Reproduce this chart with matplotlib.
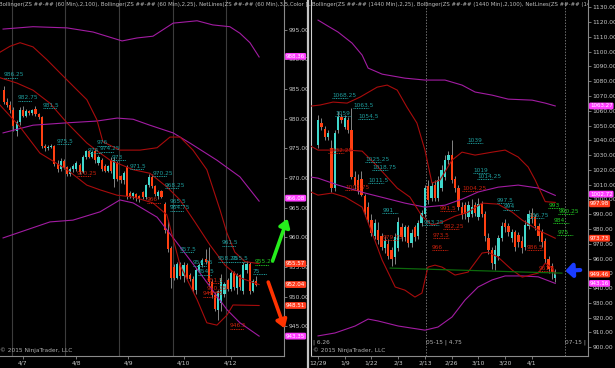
import matplotlib
matplotlib.use("Agg")
from matplotlib import pyplot as plt
from matplotlib.transforms import offset_copy
import numpy as np

# ---- left panel: ZS 60 min ----
L_open = [984.8, 982.8, 982.3, 981.5, 978.0, 979.4, 981.5, 980.5, 981.3, 980.9,
          981.6, 980.8, 980.3, 975.4, 975.0, 975.3, 975.4, 972.3, 971.6, 972.8,
          971.9, 970.7, 971.5, 971.6, 972.2, 971.0, 973.6, 974.5, 973.6, 974.6,
          972.6, 973.0, 972.0, 971.2, 973.0, 969.8, 972.6, 970.3, 969.7, 971.8,
          967.5, 966.9, 967.3, 967.0, 967.6, 966.8, 968.8, 970.2, 968.6, 967.0,
          967.8, 965.6, 961.2, 958.2, 955.0, 953.2, 955.5, 953.4, 955.3, 953.6,
          953.0, 951.2, 954.5, 955.3, 956.3, 956.0, 952.5, 950.2, 947.8, 949.0,
          950.5, 952.8, 951.3, 954.0, 951.4, 953.6, 951.0, 954.5, 955.5, 951.0, 952.6]
L_high = [985.5, 983.5, 983.0, 982.0, 979.8, 982.0, 982.2, 981.6, 981.5, 981.7,
          982.2, 981.0, 980.5, 975.8, 975.6, 975.7, 975.6, 973.0, 973.4, 973.2,
          972.0, 971.8, 972.3, 972.8, 972.5, 973.8, 974.8, 974.8, 974.6, 975.0,
          973.8, 973.4, 972.4, 972.2, 973.5, 973.5, 972.8, 970.5, 971.2, 972.2,
          967.8, 967.6, 967.5, 967.2, 967.8, 969.0, 970.6, 970.6, 968.8, 968.0,
          968.0, 966.0, 963.0, 958.6, 955.5, 955.8, 955.8, 955.8, 955.6, 954.0,
          953.4, 954.8, 955.6, 956.5, 958.0, 958.4, 953.0, 950.8, 951.2, 953.8,
          952.4, 953.2, 954.3, 954.3, 954.0, 953.8, 955.8, 956.0, 955.8, 953.0, 953.4]
L_low = [982.5, 982.0, 981.0, 978.0, 977.0, 979.0, 980.2, 980.2, 980.6, 980.7,
         980.5, 979.9, 975.0, 974.6, 974.8, 975.0, 972.0, 971.0, 971.2, 971.5,
         970.4, 970.3, 971.0, 971.2, 970.6, 970.8, 973.2, 973.3, 973.3, 972.6,
         972.2, 971.2, 971.0, 971.0, 970.8, 968.5, 969.5, 969.2, 969.0, 966.5,
         966.6, 966.5, 966.2, 966.0, 966.4, 966.4, 968.5, 968.3, 967.0, 966.4,
         966.6, 960.8, 957.5, 951.5, 952.8, 953.0, 953.0, 952.5, 953.0, 952.6,
         950.8, 950.5, 954.2, 955.0, 955.5, 952.0, 949.8, 947.5, 946.0, 947.5,
         950.0, 951.0, 951.0, 951.2, 950.5, 951.2, 950.4, 954.0, 950.5, 950.8, 951.8]
L_close = [982.8, 982.3, 981.5, 978.8, 979.4, 981.5, 980.5, 981.3, 980.9, 981.4,
           980.8, 980.2, 975.4, 975.0, 975.3, 975.4, 972.3, 971.6, 972.8, 971.9,
           970.7, 971.5, 972.0, 972.5, 971.0, 973.6, 974.5, 973.6, 974.3, 973.0,
           973.5, 971.5, 971.2, 972.0, 971.2, 973.0, 969.8, 969.6, 970.9, 966.9,
           967.0, 967.4, 966.6, 966.4, 966.8, 968.8, 970.2, 968.6, 967.3, 967.6,
           966.8, 961.2, 958.0, 953.2, 953.2, 955.5, 953.4, 955.3, 953.2, 953.0,
           951.1, 954.5, 955.3, 956.2, 955.8, 952.5, 950.2, 948.0, 951.0, 953.2,
           952.2, 951.3, 954.0, 951.6, 953.6, 951.6, 955.3, 955.5, 951.0, 952.6, 952.0]

# bands as (bar index, price) points
L_bb100_up = ([-0.3, 9.2, 20, 28.3, 37.5, 42.2, 47.3, 53.7, 61.3, 66.3, 71.7, 74.9, 78.1, 81],
              [995.1, 995.5, 995.3, 994.6, 993.1, 993.6, 993.9, 996.1, 996.5, 995.8, 995.5, 994.4, 992.8, 990.4])
L_bb100_mid = ([-0.3, 9.2, 20, 29.5, 35.9, 41, 46.3, 53.7, 59, 67.6, 74.9, 81],
               [977.6, 978.9, 979.3, 979.6, 980.1, 979.9, 978.9, 977.6, 975.9, 973.0, 970.2, 966.1])
L_bb100_lo = ([-0.3, 14.6, 21.9, 30.5, 36.8, 41, 48.6, 54.9, 62.2, 70.8, 74.9, 81],
              [959.9, 962.6, 962.9, 964.3, 966.3, 965.8, 963.4, 959.1, 954.0, 947.8, 945.6, 943.35])
L_bb25_up = ([-1.27, 1.9, 5.1, 9.2, 13.7, 17.8, 22.5, 26.3, 29.5, 31.4, 36.8, 43.2, 48.6, 52.7,
              55.9, 60, 64.4, 68.6, 70.8, 73.3, 76.5, 81],
             [991.2, 992.2, 992.8, 992.1, 989.9, 987.7, 985.2, 983.2, 979.8, 976.1, 974.7, 974.7,
              975.1, 976.9, 976.9, 974.7, 971.4, 964.6, 960.7, 957.5, 955.9, 955.57])
L_bb25_mid = ([-1.27, 4.1, 9.2, 14.6, 20, 26.3, 30.5, 33.7, 41, 46.3, 51.7, 55.9, 60.6, 65.4,
               70.2, 74.9, 81],
              [986.9, 986.0, 984.8, 982.6, 979.3, 975.9, 974.2, 973.0, 971.4, 970.8, 968.5, 966.3,
               962.6, 958.7, 955.3, 953.2, 952.04])
L_bb25_lo = ([-1.27, 5.1, 11.4, 20, 26.3, 30.5, 35.9, 41, 47.3, 51.7, 55.9, 61.3, 64.4, 67.6,
              70.8, 72.7, 81],
             [982.3, 978.6, 974.2, 971.4, 968.8, 968.0, 967.1, 966.8, 965.8, 963.8, 955.3, 949.5,
              945.6, 945.2, 946.9, 948.6, 948.51])
L_sessions = [2.5, 19.5, 36.5, 53.5, 70.5]
L_dates = ["4/7", "4/8", "4/9", "4/10", "4/12"]
L_date_pos = [6, 23, 39.5, 57, 72]
L_yticks = [945, 950, 955, 960, 965, 970, 975, 980, 985, 990, 995]
L_tags = [("988.36", 990.5, "#ff3cff"), ("966.08", 966.6, "#ff3cff"), ("955.57", 955.57, "#ff3b1c"),
          ("952.04", 952.04, "#ff3b1c"), ("948.51", 948.51, "#ff3b1c"), ("943.35", 943.35, "#ff3cff")]
# net line labels: text, bar index, price, colour key
L_net = [("986.25", 0, 987.4, "c"), ("982.75", 4.4, 983.5, "c"), ("981.5", 12.4, 982.3, "c"),
         ("975.5", 16.8, 976.2, "c"), ("976", 29.5, 975.9, "c"), ("974", 26.7, 974.7, "c"),
         ("974.25", 30.5, 974.9, "c"), ("973", 34.3, 973.5, "c"), ("971.5", 40, 972.0, "c"),
         ("970.25", 47.3, 970.8, "c"), ("968.25", 51.1, 968.8, "c"), ("965.5", 52.7, 966.0, "c"),
         ("964.75", 52.7, 965.0, "c"), ("957.5", 55.9, 958.0, "c"), ("961.5", 69.2, 959.1, "c"),
         ("954.75", 60, 955.7, "c"), ("958.25", 67.9, 956.4, "c"), ("955.5", 72.2, 956.4, "c"),
         ("954.5", 61.6, 954.2, "c"), ("75", 79, 954.3, "c"),
         ("970.25", 23.2, 970.8, "r"), ("966", 45.4, 966.3, "r"), ("951.5", 64.4, 952.8, "r"),
         ("950.25", 64.4, 951.3, "r"), ("949.75", 63.2, 950.5, "r"), ("946.5", 71.7, 945.1, "r"),
         ("955.25", 79.7, 955.9, "g")]

# ---- right panel: ZS daily ----
R_open = [1037, 1052, 1048, 1042, 1035, 1008, 1047, 1056, 1049, 1054, 1047, 1015, 1013, 1014,
          1002, 995, 986, 975, 979, 975, 967, 970, 966, 961, 967, 981, 974.5, 981, 970.5, 981,
          975, 984, 990, 1009, 1001, 1010, 1001, 1008, 1015, 1026.6, 1030, 1014, 1007.7, 995,
          996, 988, 990, 996, 988, 997, 990, 974, 966, 956, 962, 974, 984, 982, 974, 978,
          976, 972, 968, 982, 991, 988, 982, 978, 972, 960, 955, 947]
R_high = [1057, 1055, 1050, 1047, 1040, 1047, 1060, 1058, 1057, 1056, 1062, 1019, 1017, 1019,
          1004, 998, 990, 987, 985, 977, 975, 973, 968, 977, 988, 984, 983, 983, 980, 983,
          986, 993, 1010, 1013, 1012, 1013, 1016, 1023, 1030, 1033, 1040, 1016, 1010, 998,
          998, 999, 1000, 998, 1001, 999, 992, 977, 968, 969, 976, 985, 987, 984, 980, 979,
          978, 975, 986, 993, 994, 990, 984, 980, 974, 962, 957, 953]
R_low = [1035, 1047, 1040, 1040, 1005, 1006, 1045, 1052, 1048, 1045, 1014, 1007, 1004, 1002,
         989, 984, 975, 973, 970, 966, 964, 960, 955, 956, 965, 972, 972, 968, 968, 972,
         973, 982, 988, 997, 999, 999, 999, 1006, 1013, 1024, 1011, 1005, 993, 987,
         987, 985, 988, 989, 986, 988, 972, 963, 953, 952, 959, 972, 978, 975, 971, 965,
         968, 964, 966, 980, 984, 979, 972, 968, 957, 950, 946, 944]
R_close = [1054, 1049, 1042, 1045, 1008, 1045, 1056, 1054, 1055, 1047, 1015, 1010, 1006, 1003,
           991, 986, 977, 984, 972.5, 968, 972, 962, 960, 974.5, 985, 974.5, 981, 970.5, 977, 974.5,
           984, 990.7, 1008, 999.5, 1009, 1001, 1013, 1020, 1026.6, 1030, 1013, 1007.7, 994.8, 989.4,
           990, 996, 995, 991, 997, 990, 975, 966, 957, 966, 974, 982, 981, 978, 978, 968,
           971, 967, 983, 990, 987, 982, 975, 971, 960, 953, 951, 950]

R_bb100_up = ([0, 3, 6, 10.2, 13.2, 15, 19.2, 26, 32, 38, 43.1, 47, 52.1, 56.9, 64.1, 68, 71],
              [1121.4, 1117.3, 1113.3, 1105.8, 1097.7, 1088.9, 1084.8, 1082.1, 1080.8, 1080.8,
               1077.4, 1072.7, 1070.6, 1067.9, 1067.2, 1065.2, 1063.27])
R_bb100_mid = ([-2.1, 0, 6, 9, 14.1, 20.1, 26, 32, 38, 43.1, 47.9, 53.9, 59.9, 65.9, 71],
               [1015.1, 1014.4, 1009.7, 1007.7, 1004.3, 1000.9, 997.5, 994.8, 996.1, 1000.2,
                1005.0, 1008.3, 1009.7, 1007.7, 1002.72])
R_bb100_lo = ([0, 5.1, 11.1, 15, 18, 24, 32, 35.9, 40.1, 44, 47.9, 52.1, 56, 61.1, 65.9, 71],
              [907.6, 909.6, 914.3, 919.0, 917.7, 914.3, 911.5, 913.6, 920.4, 931.9, 940.7,
               945.5, 948.2, 948.2, 947.6, 943.16])
R_bb25_up = ([-2.1, 0.6, 4.5, 8.7, 12.6, 17.7, 20.7, 23.7, 26.6, 29.6, 32, 34.1, 36.5, 40.1,
              43.1, 47, 52.1, 56, 59.9, 62.9, 65, 68, 71],
             [1063.2, 1063.9, 1065.9, 1065.2, 1069.3, 1076.0, 1077.4, 1074.0, 1062.5, 1051.7,
              1033.4, 1011.1, 1013.1, 1026.6, 1032.0, 1030.0, 1032.0, 1033.4, 1028.7, 1021.9,
              1013.1, 998.5, 997.98])
R_bb25_mid = ([-2.1, 0, 8.7, 13.2, 17.7, 23.7, 27.5, 31.1, 34.1, 37.1, 41, 44.9, 49.1, 53.9,
               58.1, 61.1, 65.9, 71],
              [1036.0, 1033.4, 1033.4, 1032.7, 1022.6, 1007.7, 1001.6, 988.7, 982.6, 984.6,
               988.7, 991.4, 997.5, 996.8, 991.4, 986.0, 979.2, 973.73])
R_bb25_lo = ([-2.1, 0, 4.2, 8.1, 13.2, 16.2, 19.2, 23.1, 26, 29, 31.1, 32.9, 35, 37.1, 41,
              44.9, 49.1, 50.9, 53.9, 58.1, 61.1, 65.9, 68, 70.1, 71],
             [1005.0, 1002.9, 1004.3, 1001.6, 994.8, 977.2, 958.9, 940.7, 938.6, 933.9, 936.6,
              954.2, 955.5, 954.2, 948.8, 950.8, 963.7, 964.3, 960.9, 952.2, 947.4, 950.1,
              956.9, 953.5, 949.46])
R_trend = ([21.6, 73], [953.5, 950.1])
R_dates = ["12/29", "1/9", "1/22", "2/3", "2/13", "2/26", "3/10", "3/20", "4/1"]
R_date_pos = [0, 8, 16, 24, 32, 40, 48, 56, 64]
R_rolls = [32.3, 74]
R_roll_text = ["05-15 | 4.75", "07-15 | Nc"]
R_yticks = list(range(900, 1131, 10))
R_tags = [("1063.27", 1063.27, "#ff3cff"), ("1002.72", 1003.6, "#ff3cff"), ("997.98", 997.0, "#ff3b1c"),
          ("973.73", 973.73, "#ff3b1c"), ("949.46", 949.46, "#ff3b1c"), ("943.16", 943.16, "#ff3cff")]
R_net = [("1068.25", 4.2, 1070.6, "c"), ("1063.5", 10.5, 1063.9, "c"), ("1059", 5.1, 1058.4, "c"),
         ("1054.5", 12, 1056.4, "c"), ("1025.25", 14.1, 1027.3, "c"), ("1018.75", 16.2, 1021.9, "c"),
         ("1011.5", 15, 1013.1, "c"), ("1039", 44.6, 1040.2, "c"), ("1019", 46.4, 1019.9, "c"),
         ("1014.25", 47.6, 1015.8, "c"), ("997.5", 53.6, 999.5, "c"), ("994", 55.4, 995.2, "c"),
         ("991", 19.2, 992.8, "c"), ("983.25", 31.5, 984.7, "c"), ("986.75", 62.9, 989.4, "c"),
         ("1032.25", 3, 1033.4, "r"), ("1002.75", 8.1, 1008.3, "r"), ("991.5", 36.5, 994.1, "r"),
         ("982.25", 37.5, 981.7, "r"), ("973.5", 34.4, 975.8, "r"), ("966", 34.1, 967.7, "r"),
         ("1004.25", 43.1, 1007.7, "r"), ("979.75", 19.2, 974.5, "r"), ("986.5", 62.5, 967.7, "r"),
         ("961.5", 65.9, 953.5, "r"),
         ("993", 68.9, 996.2, "g"), ("990.25", 71.9, 992.1, "g"), ("984", 70.4, 986.0, "g"),
         ("975", 71.6, 977.9, "g")]

UP = "#40d8cc"
DOWN = "#ff4012"
PURPLE = "#a21ca2"
DARKRED = "#a80c0c"
GRID = "#3c3c3c"
TXT = "#c8c8c8"
NETCOL = {"c": "#1e9c9c", "r": "#c8200c", "g": "#22c822"}

fig = plt.figure(figsize=(6.15, 3.68), dpi=100, facecolor="black")
ax1 = fig.add_axes([0, 12 / 368, 284 / 615, 356 / 368])
ax2 = fig.add_axes([311 / 615, 12 / 368, 277 / 615, 356 / 368])


def candles(ax, o, h, l, c, width):
    o, h, l, c = map(np.array, (o, h, l, c))
    x = np.arange(len(o))
    up = c >= o
    ax.vlines(x, l, h, color="#9a9a9a", lw=0.6, zorder=2)
    body = np.maximum(np.abs(c - o), 0.15 * (h.max() - l.min()) / 100)
    bottom = np.minimum(o, c)
    ax.bar(x[up], body[up], width, bottom=bottom[up], color=UP, zorder=3, linewidth=0)
    ax.bar(x[~up], body[~up], width, bottom=bottom[~up], color=DOWN, zorder=3, linewidth=0)


def net_labels(ax, items, width):
    tr = offset_copy(ax.transData, fig=fig, y=-3, units="dots")
    for s, x, y, k in items:
        col = NETCOL[k]
        ax.text(x, y, s, color=col, fontsize=4.2, va="center", ha="left", zorder=6)
        ax.plot([x, x + width], [y, y], transform=tr, color=col, lw=0.7,
                ls=(0, (1, 0.8)), zorder=6)


def tags(ax, items):
    for s, v, fc in items:
        ax.text(1.007, v, s, transform=ax.get_yaxis_transform(), fontsize=4.0, color="white",
                va="center", ha="left", zorder=20, clip_on=False,
                bbox=dict(boxstyle="round,pad=0.16,rounding_size=0.25", fc=fc, ec="none"))


def style(ax):
    ax.set_facecolor("black")
    for side in ("left", "top"):
        ax.spines[side].set_visible(False)
    for side in ("right", "bottom"):
        ax.spines[side].set_color("#8a8a8a")
        ax.spines[side].set_linewidth(0.8)
    ax.yaxis.tick_right()
    ax.tick_params(axis="both", colors="#8a8a8a", labelcolor=TXT, labelsize=4.3,
                   length=2, width=0.6, pad=1)
    ax.yaxis.set_major_formatter(matplotlib.ticker.FormatStrFormatter("%.2f"))


# left
style(ax1)
for s in L_sessions:
    ax1.axvline(s, color=GRID, lw=0.8, zorder=1)
for pts, col in ((L_bb100_up, PURPLE), (L_bb100_mid, PURPLE), (L_bb100_lo, PURPLE),
                 (L_bb25_up, DARKRED), (L_bb25_mid, DARKRED), (L_bb25_lo, DARKRED)):
    ax1.plot(pts[0], pts[1], color=col, lw=0.8, zorder=4)
candles(ax1, L_open, L_high, L_low, L_close, 0.66)
net_labels(ax1, L_net, 4.5)
ax1.set_xlim(-1.27, 88.9)
ax1.set_ylim(940, 1000)
ax1.set_yticks(L_yticks)
ax1.set_xticks(L_date_pos)
ax1.set_xticklabels(L_dates)
tags(ax1, L_tags)
ax1.text(-0.005, 0.995, "Bollinger(ZS ##-## (60 Min),2,100), Bollinger(ZS ##-## (60 Min),2,25), "
         "NetLines(ZS ##-## (60 Min),3,5,Color [Lime],Color [Dar",
         transform=ax1.transAxes, fontsize=3.9, color="#bdbdbd", va="top", ha="left")
ax1.text(0.0, 0.008, "\u00a9 2015 NinjaTrader, LLC", transform=ax1.transAxes, fontsize=4.2,
         color="#b0b0b0", va="bottom", ha="left")
ax1.annotate("", xy=(90.3, 963.6), xytext=(85.0, 955.6), annotation_clip=False,
             arrowprops=dict(arrowstyle="-|>,head_length=0.6,head_width=0.4", lw=2.6,
                             color="#26ee1c", mutation_scale=8))
ax1.annotate("", xy=(89.4, 944.2), xytext=(83.6, 952.9), annotation_clip=False,
             arrowprops=dict(arrowstyle="-|>,head_length=0.6,head_width=0.4", lw=2.6,
                             color="#ff3300", mutation_scale=8))

# right
style(ax2)
ax2.spines["left"].set_visible(True)
ax2.spines["left"].set_color("#d0d0d0")
for r in R_rolls:
    ax2.axvline(r, color="#707070", lw=0.7, ls=(0, (1.5, 1.5)), zorder=1)
for pts, col in ((R_bb100_up, PURPLE), (R_bb100_mid, PURPLE), (R_bb100_lo, PURPLE),
                 (R_bb25_up, DARKRED), (R_bb25_mid, DARKRED), (R_bb25_lo, DARKRED)):
    ax2.plot(pts[0], pts[1], color=col, lw=0.8, zorder=4)
ax2.plot(R_trend[0], R_trend[1], color="#0c6a0c", lw=0.9, zorder=4)
candles(ax2, R_open, R_high, R_low, R_close, 0.7)
net_labels(ax2, R_net, 4.8)
ax2.set_xlim(-2.1, 80.8)
ax2.set_ylim(894, 1135)
ax2.set_yticks(R_yticks)
ax2.set_xticks(R_date_pos)
ax2.set_xticklabels(R_dates)
tags(ax2, R_tags)
ax2.text(0.005, 0.995, "Bollinger(ZS ##-## (1440 Min),2,25), Bollinger(ZS ##-## (1440 Min),2,100), "
         "NetLines(ZS ##-## (1440 Min),3,5,Color [Lim",
         transform=ax2.transAxes, fontsize=3.9, color="#bdbdbd", va="top", ha="left",
         clip_on=True)
ax2.text(0.007, 0.008, "\u00a9 2015 NinjaTrader, LLC", transform=ax2.transAxes, fontsize=4.2,
         color="#b0b0b0", va="bottom", ha="left")
ax2.text(0.007, 0.03, "| 6.26", transform=ax2.transAxes, fontsize=4.2, color="#b0b0b0",
         va="bottom", ha="left")
for r, s in zip(R_rolls, R_roll_text):
    ax2.text(r, 0.03, s, transform=ax2.get_xaxis_transform(), fontsize=4.2, color="#b0b0b0",
             va="bottom", ha="left", clip_on=True)
ax2.annotate("", xy=(73.2, 951.6), xytext=(79.3, 952.3), annotation_clip=False,
             arrowprops=dict(arrowstyle="-|>,head_length=0.5,head_width=0.5", lw=3,
                             color="#1a3cff", mutation_scale=8))

# panel divider
fig.add_artist(plt.Line2D([307.5 / 615, 307.5 / 615], [0, 1], color="#c4c4c4", lw=1.6))

fig.savefig("out.png", dpi=100, facecolor="black")
